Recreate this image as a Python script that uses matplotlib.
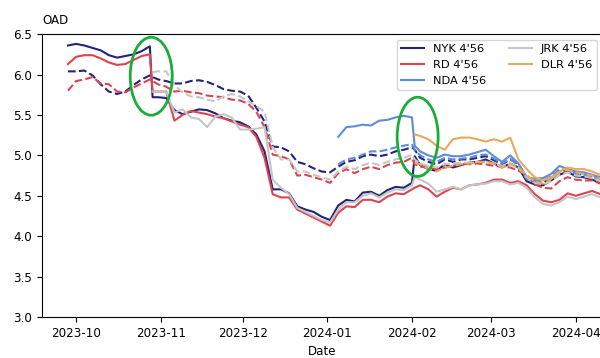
import numpy as np
import pandas as pd
import matplotlib
matplotlib.use("Agg")
import matplotlib.pyplot as plt
import matplotlib.dates as mdates
from matplotlib.patches import Ellipse

nan = np.nan

# observation dates (every third day, plus the two days right after the jumps)
dates = pd.date_range("2023-09-28", "2024-04-10", freq="3D").union(
    pd.DatetimeIndex(["2023-10-29", "2024-02-02"]))

nyk_solid = [6.36, 6.38, 6.36, 6.33, 6.30, 6.24, 6.21, 6.23, 6.25, 6.29, 6.35,
             5.72, 5.72, 5.71, 5.56, 5.51, 5.54, 5.57, 5.56, 5.52, 5.46, 5.43, 5.41, 5.36, 5.26, 5.05,
             4.58, 4.58, 4.53, 4.37, 4.33, 4.30, 4.24, 4.20, 4.38, 4.45, 4.43, 4.54, 4.55, 4.50, 4.57, 4.61, 4.60, 4.66,
             4.99, 4.88, 4.83, 4.81, 4.89, 4.85, 4.88, 4.91, 4.92, 4.95, 4.90, 4.85, 4.90, 4.85,
             4.68, 4.64, 4.63, 4.69, 4.76, 4.80, 4.74, 4.73, 4.70, 4.66]
nyk_dash = [6.04, 6.04, 6.05, 5.99, 5.88, 5.79, 5.76, 5.79, 5.87, 5.94, 5.99,
            5.97, 5.94, 5.92, 5.89, 5.89, 5.92, 5.93, 5.91, 5.87, 5.82, 5.80, 5.79, 5.74, 5.59, 5.42,
            5.11, 5.10, 5.05, 4.92, 4.89, 4.84, 4.80, 4.79, 4.86, 4.92, 4.94, 4.99, 5.01, 4.99, 5.01, 5.05, 5.07, 5.10,
            5.07, 4.97, 4.92, 4.89, 4.95, 4.92, 4.95, 4.95, 4.97, 4.99, 4.94, 4.89, 4.95, 4.89,
            4.73, 4.68, 4.66, 4.73, 4.80, 4.82, 4.77, 4.76, 4.74, 4.70]
rd_solid = [6.13, 6.22, 6.24, 6.24, 6.20, 6.15, 6.12, 6.13, 6.18, 6.23, 6.25,
            5.79, 5.79, 5.79, 5.43, 5.50, 5.55, 5.53, 5.51, 5.48, 5.46, 5.42, 5.38, 5.35, 5.23, 4.97,
            4.52, 4.48, 4.48, 4.33, 4.28, 4.23, 4.18, 4.13, 4.29, 4.37, 4.36, 4.45, 4.45, 4.42, 4.49, 4.53, 4.52, 4.58,
            4.60, 4.63, 4.58, 4.49, 4.55, 4.60, 4.58, 4.63, 4.64, 4.66, 4.70, 4.70, 4.66, 4.68,
            4.63, 4.52, 4.44, 4.42, 4.45, 4.53, 4.50, 4.53, 4.56, 4.52]
rd_dash = [5.80, 5.92, 5.94, 5.97, 5.89, 5.88, 5.79, 5.78, 5.84, 5.89, 5.94,
           5.92, 5.88, 5.85, 5.79, 5.80, 5.78, 5.77, 5.74, 5.73, 5.72, 5.69, 5.68, 5.64, 5.54, 5.35,
           5.01, 4.99, 4.95, 4.75, 4.76, 4.73, 4.70, 4.66, 4.78, 4.83, 4.78, 4.83, 4.86, 4.83, 4.88, 4.91, 4.92, 4.97,
           4.89, 4.86, 4.85, 4.83, 4.85, 4.87, 4.90, 4.89, 4.90, 4.89, 4.87, 4.86, 4.85, 4.81,
           4.76, 4.64, 4.60, 4.59, 4.68, 4.73, 4.70, 4.69, 4.69, 4.65]
nda_solid = [nan] * 34 + [5.23, 5.35, 5.36, 5.38, 5.37, 5.43, 5.44, 5.47, 5.49, 5.47,
                          5.12, 5.05, 5.00, 4.97, 5.01, 4.99, 4.99, 5.01, 5.04, 5.07, 4.99, 4.92, 5.00, 4.90,
                          4.73, 4.71, 4.72, 4.77, 4.87, 4.83, 4.80, 4.79, 4.76, 4.73]
nda_dash = [nan] * 34 + [4.89, 4.95, 4.97, 5.01, 5.05, 5.05, 5.07, 5.10, 5.12, 5.14,
                         5.07, 5.00, 4.95, 4.92, 4.97, 4.95, 4.96, 4.97, 5.00, 5.01, 4.96, 4.90, 4.96, 4.87,
                         4.71, 4.68, 4.69, 4.74, 4.83, 4.82, 4.77, 4.76, 4.74, 4.70]
jrk_solid = [nan] * 11 + [5.79, 5.79, 5.79, 5.53, 5.57, 5.47, 5.45, 5.35, 5.48, 5.51, 5.47, 5.32, 5.32, 5.33, 5.35,
                          4.70, 4.60, 4.52, 4.35, 4.30, 4.25, 4.20, 4.17, 4.33, 4.42, 4.42, 4.50, 4.53, 4.48, 4.54, 4.58, 4.57, 4.63,
                          4.73, 4.70, 4.65, 4.55, 4.58, 4.61, 4.58, 4.63, 4.64, 4.65, 4.68, 4.68, 4.64, 4.66,
                          4.60, 4.48, 4.40, 4.38, 4.42, 4.49, 4.46, 4.49, 4.52, 4.48]
jrk_dash = [nan] * 11 + [6.03, 6.04, 6.04, 5.87, 5.78, 5.73, 5.72, 5.69, 5.67, 5.73, 5.76, 5.73, 5.67, 5.61, 5.54,
                         5.10, 4.95, 4.95, 4.80, 4.80, 4.76, 4.73, 4.70, 4.80, 4.86, 4.83, 4.88, 4.91, 4.88, 4.92, 4.95, 4.97, 5.01,
                         4.95, 4.90, 4.87, 4.85, 4.89, 4.90, 4.91, 4.91, 4.92, 4.92, 4.90, 4.87, 4.90, 4.85,
                         4.73, 4.66, 4.64, 4.68, 4.76, 4.79, 4.75, 4.74, 4.72, 4.68]
dlr_solid = [nan] * 44 + [5.26, 5.24, 5.20, 5.12, 5.07, 5.20, 5.22, 5.22, 5.20, 5.17, 5.20, 5.17, 5.22, 4.95,
                          4.83, 4.73, 4.69, 4.73, 4.80, 4.85, 4.83, 4.83, 4.80, 4.76]
dlr_dash = [nan] * 44 + [4.91, 4.89, 4.83, 4.80, 4.85, 4.87, 4.89, 4.90, 4.92, 4.92, 4.90, 4.85, 4.89, 4.85,
                         4.75, 4.68, 4.65, 4.71, 4.80, 4.82, 4.79, 4.77, 4.75, 4.71]

names = ["NYK 4'56", "RD 4'56", "NDA 4'56", "JRK 4'56", "DLR 4'56"]
colors = ["#23237a", "#dd4452", "#5b8ddb", "#c6c6c6", "#e8a95e"]
solid = [nyk_solid, rd_solid, nda_solid, jrk_solid, dlr_solid]
dashed = [nyk_dash, rd_dash, nda_dash, jrk_dash, dlr_dash]

plt.rcParams["font.size"] = 8.6

fig = plt.figure(figsize=(6, 3.58), dpi=100)
ax = fig.add_axes([0.07, 0.1145, 0.934, 0.79])

for name, c, s, d in zip(names, colors, solid, dashed):
    ax.plot(dates, s, color=c, lw=1.5, label=name)
    ax.plot(dates, d, color=c, lw=1.5, ls="--")

ax.set_ylim(3.0, 6.5)
ax.set_xlim(pd.Timestamp("2023-09-18 12:00"), pd.Timestamp("2024-04-10 18:00"))
ax.xaxis.set_major_locator(mdates.MonthLocator())
ax.xaxis.set_major_formatter(mdates.DateFormatter("%Y-%m"))
ax.set_xlabel("Date")
ax.text(0, 1.035, "OAD", transform=ax.transAxes, ha="left", va="baseline")

ax.legend(loc="upper right", ncol=2, fontsize=8.2)

# highlight the two jumps
for cx, cy, w, h in [("2023-10-28 12:00", 5.98, 15.4, 0.965),
                     ("2024-02-03 02:00", 5.23, 15.0, 0.98)]:
    ax.add_patch(Ellipse((mdates.date2num(pd.Timestamp(cx)), cy), w, h,
                         fill=False, ec="#1aad3a", lw=2, zorder=5))

fig.savefig("out.png", dpi=100)
